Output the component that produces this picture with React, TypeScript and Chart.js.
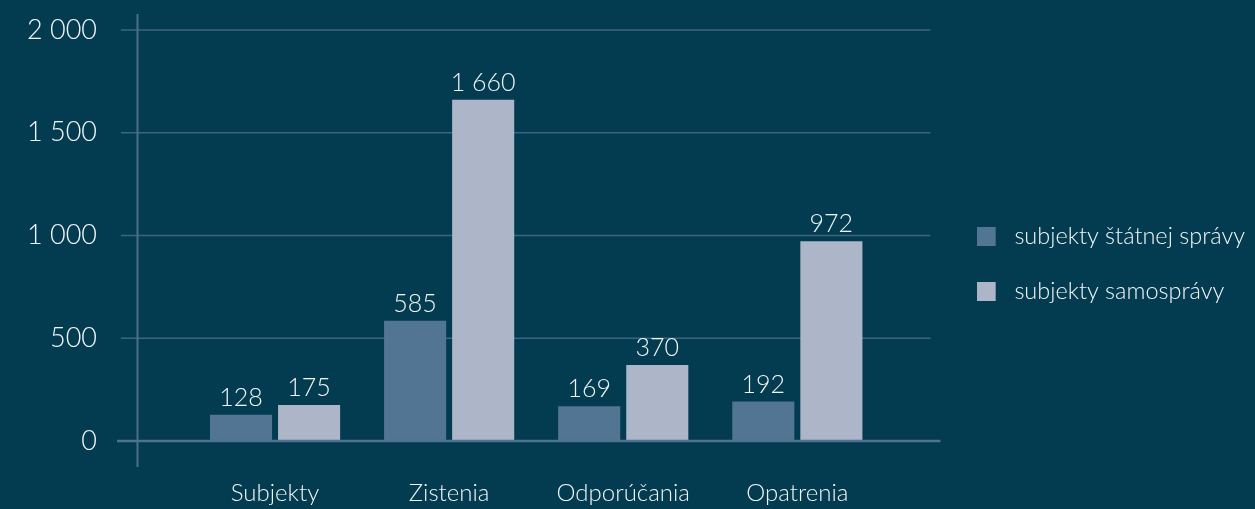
import React, { useEffect, useRef } from 'react';
import { Chart, registerables } from 'chart.js';

Chart.register(...registerables);

// ---- data ----
const categories = ['Subjekty', 'Zistenia', 'Odporúčania', 'Opatrenia'];
const seriesNames = ['subjekty štátnej správy', 'subjekty samosprávy'];
const statnejSpravy = [128, 585, 169, 192];
const samospravy = [175, 1660, 370, 972];
const yMin = 0;
const yMax = 2000;
const yStep = 500;

// ---- style ----
const seriesColors = ['#527594', '#adb5c8'];
const BG = '#033c51';
const TEXT = '#f2f5f7';
const GRID = '#3e6481';
const AXIS = '#4f7291';
const FONT = 'Lato, "Noto Sans", sans-serif';

const fmt = (v: number) => {
  const s = String(Math.round(v));
  return s.length > 3 ? s.slice(0, -3) + '\u00a0' + s.slice(-3) : s;
};

const axesPlugin = {
  id: 'customAxes',
  beforeDatasetsDraw(chart: any) {
    const { ctx, chartArea: a, scales } = chart;
    const y = scales.y;
    ctx.save();
    ctx.strokeStyle = GRID;
    ctx.lineWidth = 1.5;
    y.ticks.forEach((t: any) => {
      if (t.value === 0) return;
      const py = y.getPixelForValue(t.value);
      ctx.beginPath();
      ctx.moveTo(a.left - 67, py);
      ctx.lineTo(a.right + 46, py);
      ctx.stroke();
    });
    ctx.strokeStyle = '#4c6d8b';
    ctx.lineWidth = 2;
    ctx.beginPath();
    ctx.moveTo(a.left - 50.5, a.top - 16);
    ctx.lineTo(a.left - 50.5, a.bottom + 26);
    ctx.stroke();
    ctx.restore();
  },
  afterDatasetsDraw(chart: any) {
    const { ctx, chartArea: a, scales } = chart;
    const y = scales.y;
    const y0 = y.getPixelForValue(0);
    ctx.save();
    ctx.strokeStyle = AXIS;
    ctx.lineWidth = 2.5;
    ctx.beginPath();
    ctx.moveTo(a.left - 71, y0);
    ctx.lineTo(a.right + 56, y0);
    ctx.stroke();

    ctx.fillStyle = TEXT;
    ctx.font = `300 25px ${FONT}`;
    ctx.textAlign = 'center';
    ctx.textBaseline = 'alphabetic';
    chart.data.datasets.forEach((ds: any, di: number) => {
      const meta = chart.getDatasetMeta(di);
      meta.data.forEach((el: any, i: number) => {
        ctx.fillText(fmt(ds.data[i]), el.x, el.y - 9);
      });
    });
    ctx.restore();
  },
};

export default function App() {
  const ref = useRef<HTMLCanvasElement | null>(null);

  useEffect(() => {
    if (!ref.current) return;
    const swatches = seriesColors.map((c) => {
      const cv = document.createElement('canvas');
      cv.width = 26;
      cv.height = 19;
      const cx = cv.getContext('2d')!;
      cx.fillStyle = c;
      cx.fillRect(0, 0, 19, 19);
      return cv;
    });

    const chart = new Chart(ref.current, {
      type: 'bar',
      data: {
        labels: categories,
        datasets: [
          {
            label: seriesNames[0],
            data: statnejSpravy,
            backgroundColor: seriesColors[0],
            categoryPercentage: 0.782,
            barPercentage: 0.912,
          },
          {
            label: seriesNames[1],
            data: samospravy,
            backgroundColor: seriesColors[1],
            categoryPercentage: 0.782,
            barPercentage: 0.912,
          },
        ],
      },
      options: {
        animation: false,
        responsive: false,
        maintainAspectRatio: false,
        devicePixelRatio: 1,
        layout: { padding: { top: 19, bottom: 0, left: 0, right: 0 } },
        scales: {
          x: {
            grid: { display: false, drawTicks: false },
            border: { display: false },
            ticks: {
              color: TEXT,
              font: { family: FONT, size: 24, weight: 300 as any },
              padding: 38,
            },
            afterFit: (s: any) => {
              s.height = 68;
            },
          },
          y: {
            min: yMin,
            max: yMax,
            weight: 2,
            grid: { display: false, drawTicks: false },
            border: { display: false },
            ticks: {
              stepSize: yStep,
              color: TEXT,
              font: { family: FONT, size: 27, weight: 300 as any },
              padding: 13.8,
              callback: (v: any) => fmt(Number(v)),
            },
            afterFit: (s: any) => {
              s.width = 110.8;
            },
          },
          ySpacer: {
            position: 'left',
            weight: 1,
            display: true,
            grid: { display: false, drawTicks: false },
            border: { display: false },
            ticks: { display: false },
            afterFit: (s: any) => {
              s.width = 77.2;
            },
          },
          y2: {
            position: 'right',
            display: true,
            grid: { display: false, drawTicks: false },
            border: { display: false },
            ticks: { display: false },
            afterFit: (s: any) => {
              s.width = 60.75;
            },
          },
        },
        plugins: {
          tooltip: { enabled: false },
          legend: {
            position: 'right',
            align: 'center',
            maxWidth: 500,
            labels: {
              color: TEXT,
              font: { family: FONT, size: 23.5, weight: 300 as any },
              usePointStyle: true,
              pointStyleWidth: 26,
              boxHeight: 19,
              padding: 31.5,
              generateLabels: (c: any) => {
                const items = Chart.defaults.plugins.legend.labels.generateLabels(c);
                return items.map((it: any, i: number) => ({ ...it, pointStyle: swatches[i] }));
              },
            },
          },
        },
      },
      plugins: [axesPlugin],
    } as any);
    return () => chart.destroy();
  }, []);

  return (
    <div style={{ position: 'fixed', left: 0, top: 0, width: 1255, height: 509, background: BG }}>
      <canvas ref={ref} width={1255} height={509} style={{ display: 'block' }} />
    </div>
  );
}
